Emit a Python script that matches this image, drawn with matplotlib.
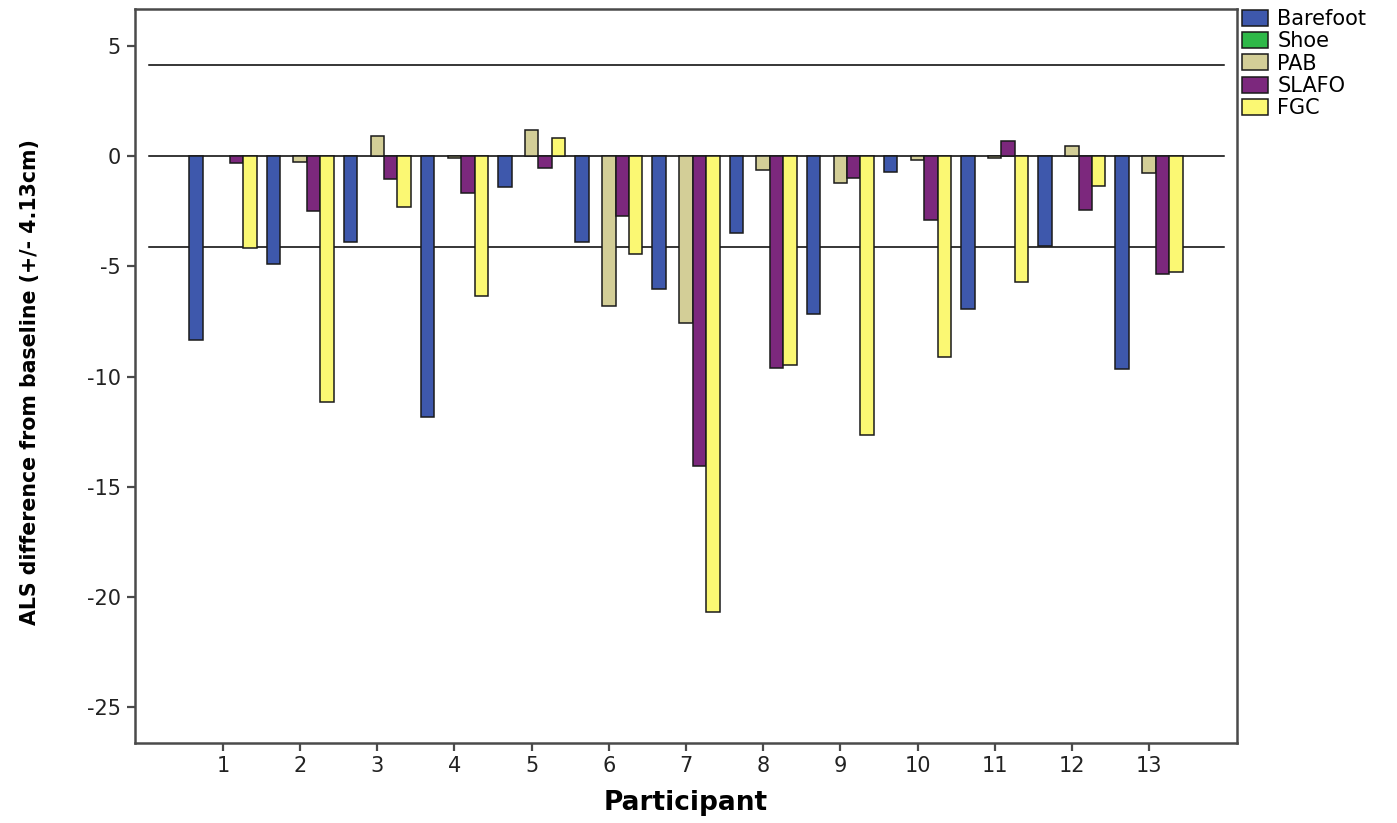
import numpy as np
import matplotlib
matplotlib.use("Agg")
import matplotlib.pyplot as plt
from matplotlib.patches import Patch

plt.rcParams['axes.unicode_minus'] = False
plt.rcParams['font.family'] = ['DejaVu Sans']

participants = [str(i) for i in range(1, 14)]
series_names = ["Barefoot", "Shoe", "PAB", "SLAFO", "FGC"]
nan = np.nan
barefoot = [-8.34, -4.90, -3.91, -11.85, -1.42, -3.89, -6.05, -3.51, -7.18, -0.71, -6.95, -4.08, -9.67]
shoe = [nan] * 13
pab = [nan, -0.26, 0.91, -0.10, 1.18, -6.80, -7.56, -0.63, -1.21, -0.18, -0.07, 0.47, -0.79]
slafo = [-0.33, -2.48, -1.04, -1.69, -0.56, -2.71, -14.06, -9.63, -1.01, -2.90, 0.70, -2.45, -5.35]
fgc = [-4.19, -11.14, -2.33, -6.35, 0.83, -4.44, -20.67, -9.48, -12.65, -9.10, -5.73, -1.36, -5.25]
threshold = 4.13
yticks = [5, 0, -5, -10, -15, -20, -25]

colors = ["#3E58AC", "#2EB848", "#D3CE97", "#7C287D", "#FBF873"]
series = [barefoot, shoe, pab, slafo, fgc]

W, H = 1397, 823
fig = plt.figure(figsize=(W / 100, H / 100), dpi=100)
ax = fig.add_axes([135 / W, (H - 743) / H, (1237 - 135) / W, (743 - 8.5) / H])

x = np.arange(1, 14)
w = 0.174
for i, (vals, c) in enumerate(zip(series, colors)):
    v = np.array(vals, dtype=float)
    m = ~np.isnan(v)
    ax.bar(x[m] + (i - 2) * w, v[m], width=w, color=c, edgecolor="#1a1a1a",
           linewidth=1.1, zorder=3)

for yv in (threshold, 0, -threshold):
    ax.axhline(yv, xmin=0.0127, xmax=0.988, color="black", linewidth=1.1, zorder=2)

ax.set_xlim(-0.14, 14.14)
ax.set_ylim(-26.62, 6.69)
ax.set_xticks(x)
ax.set_xticklabels(participants)
ax.set_yticks(yticks)
ax.set_yticklabels([str(t) for t in yticks])

for s in ax.spines.values():
    s.set_color("#4a4a4a")
    s.set_linewidth(1.8)
ax.tick_params(axis="both", direction="out", length=6, width=1.6, color="#4a4a4a",
               labelsize=15, labelcolor="#222222")
ax.tick_params(axis="y", pad=4)
ax.tick_params(axis="x", pad=3)

ax.set_ylabel("ALS difference from baseline (+/- 4.13cm)", fontsize=14.8, fontweight="bold")
ax.yaxis.set_label_coords(-0.086, 0.491)
ax.set_xlabel("Participant", fontsize=19, fontweight="bold")
ax.xaxis.set_label_coords(0.5, -0.064)

handles = [Patch(facecolor=c, edgecolor="#1a1a1a", linewidth=1.1) for c in colors]
fig.legend(handles, series_names, loc="upper left",
           bbox_to_anchor=(1242 / W, 1 - 9 / H), frameon=False, fontsize=15,
           handlelength=1.25, handleheight=0.8, handletextpad=0.45,
           labelspacing=0.11, borderpad=0, borderaxespad=0)

fig.savefig("out.png", dpi=100)
